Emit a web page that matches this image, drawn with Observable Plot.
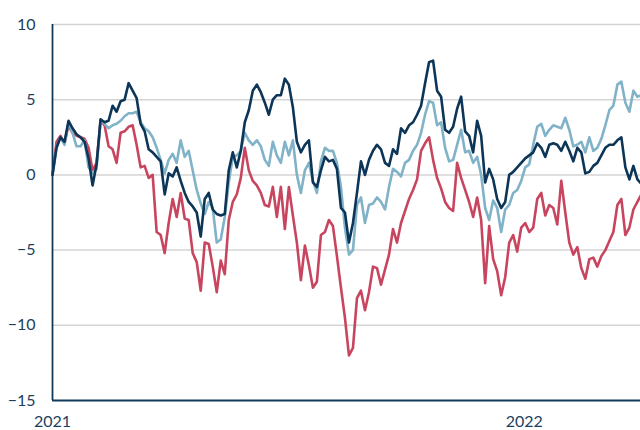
<!DOCTYPE html>
<html>
<head>
<meta charset="utf-8">
<script src="https://cdn.jsdelivr.net/npm/d3@7"></script>
<script src="https://cdn.jsdelivr.net/npm/@observablehq/plot@0.6"></script>
<style>
  html, body { margin: 0; padding: 0; background: #ffffff; }
  #chart { width: 640px; height: 430px; }
  svg { font-family: Lato, "Open Sans", sans-serif; }
</style>
</head>
<body>
<div id="chart"></div>
<script>
// Sampling: first observation and spacing (days) between readings
const startDate = "2021-01-01";
const stepDays = 3.1;
const endDate = "2022-04-01";

const yTicks = [-15, -10, -5, 0, 5, 10];
const gridTicks = [-10, -5, 0, 5, 10];
const xTickLabels = ["2021", "2022"];

const navySeries = [
  0, 1.8, 2.5, 2.2, 3.6, 3.1, 2.7, 2.5, 2.2, 1.1,
  -0.7, 0.7, 3.7, 3.5, 3.6, 4.6, 4.2, 4.9, 5.0, 6.1,
  5.6, 5.1, 3.4, 2.9, 1.7, 1.5, 1.2, 0.9, -1.3, 0.1,
  -0.1, 0.5, -0.4, -1.2, -1.8, -2.1, -2.5, -4.1, -1.6, -1.2,
  -2.3, -2.6, -2.7, -2.6, 0.3, 1.5, 0.5, 1.6, 3.5, 4.3,
  5.6, 6.0, 5.5, 4.8, 4.0, 5.0, 5.3, 5.3, 6.4, 6.0,
  4.5, 2.2, 1.5, 2.0, 2.3, -0.5, -0.8, 0.3, 1.2, 0.9,
  1.0, 0.4, -2.2, -2.5, -4.5, -3.2, -1.2, 0.9, 0.0, 1.0,
  1.6, 2.0, 1.7, 0.8, 0.6, 1.7, 1.4, 3.1, 2.8, 3.3,
  3.5, 4.0, 4.6, 6.1, 7.5, 7.6, 5.6, 5.2, 3.0, 2.8,
  3.2, 4.4, 5.2, 2.9, 2.6, 1.5, 3.6, 2.6, -0.5, 0.4,
  -0.3, -1.6, -2.2, -1.8, 0.0, 0.2, 0.5, 0.8, 1.1, 1.3,
  1.5, 2.1, 1.8, 1.2, 2.0, 2.1, 2.0, 1.6, 2.2, 1.6,
  0.9, 1.8, 1.5, 0.1, 0.2, 0.6, 0.8, 1.3, 1.8, 2.0,
  2.0, 2.3, 2.5, 0.5, -0.3, 0.6, -0.3, -0.6
];

const lightSeries = [
  0, 1.8, 2.5, 2.0, 3.5, 2.8, 1.9, 1.9, 2.3, 0.5,
  0.1, 0.4, 3.6, 3.4, 3.1, 3.3, 3.4, 3.6, 3.9, 4.1,
  4.1, 4.2, 3.5, 3.1, 2.9, 2.5, 1.8, 1.0, 0.1, 1.0,
  1.4, 0.8, 2.3, 1.2, 1.6, 0.3, -1.0, -1.9, -2.6, -1.8,
  -2.2, -4.5, -4.3, -2.8, -0.5, 1.2, 1.3, 1.6, 2.8, 2.3,
  2.0, 2.3, 1.9, 1.0, 0.6, 2.2, 1.3, 0.8, 2.2, 1.3,
  2.3, 0.0, -1.2, 0.3, 0.8, -0.4, -1.2, 0.9, 1.8, 1.6,
  1.6, 0.8, -0.8, -3.5, -5.3, -5.0, -2.0, -1.5, -3.2, -2.0,
  -1.9, -1.5, -1.8, -2.3, -0.8, 0.4, 0.2, -0.1, 0.8, 1.0,
  1.6, 2.0, 2.8, 4.0, 4.9, 4.8, 3.3, 3.5, 1.8, 0.9,
  1.0, 2.0, 3.0, 1.5, 1.6, 0.8, 1.2, 0.0, -2.2, -3.0,
  -1.7, -2.2, -3.8, -2.3, -2.0, -1.2, -1.0, -0.4, 0.5, 0.7,
  2.0, 3.2, 3.4, 2.6, 3.0, 3.3, 3.2, 3.1, 3.8, 3.0,
  1.9, 2.0, 2.2, 1.5, 2.5, 1.6, 1.8, 2.4, 3.3, 4.3,
  4.6, 6.0, 6.2, 4.8, 4.2, 5.6, 5.2, 5.3
];

const redSeries = [
  0, 2.2, 2.6, 2.1, 3.3, 2.8, 2.6, 2.5, 2.4, 1.8,
  0.3, 0.8, 3.6, 3.3, 1.9, 1.7, 0.8, 2.8, 2.9, 3.2,
  3.3, 2.0, 0.5, 0.6, -0.2, 0.0, -3.8, -4.0, -5.2, -3.2,
  -1.6, -2.8, -1.2, -2.9, -3.0, -5.2, -5.8, -7.7, -4.5, -4.6,
  -6.1, -7.8, -5.7, -6.6, -3.0, -1.8, -1.3, -0.2, 1.8, 0.3,
  -0.4, -0.7, -1.2, -2.0, -2.1, -0.8, -2.8, -0.8, -3.6, -0.8,
  -2.7, -4.5, -7.0, -4.7, -6.0, -7.5, -7.1, -4.0, -3.8, -3.0,
  -3.4, -5.4, -7.5, -9.5, -12.0, -11.5, -8.2, -7.7, -9.0, -7.8,
  -6.1, -6.2, -7.3, -6.3, -5.3, -3.6, -4.5, -3.2, -2.4, -1.6,
  -1.0, -0.3, 1.6, 2.1, 2.5, 1.0, -0.2, -0.9, -1.8, -2.2,
  -2.4, 0.8, -0.2, -1.0, -1.8, -2.8, -1.5, -3.0, -7.2, -3.4,
  -5.6, -6.4, -8.0, -6.8, -4.5, -4.0, -5.1, -3.5, -3.2, -3.8,
  -3.5, -1.6, -1.2, -2.7, -2.0, -2.2, -3.3, -0.4, -2.5, -4.5,
  -5.3, -4.8, -6.2, -6.9, -5.6, -5.5, -6.1, -5.4, -5.0, -4.4,
  -3.8, -2.0, -1.6, -4.0, -3.5, -2.3, -1.8, -1.3
];

const t0 = new Date(startDate + "T00:00:00Z");
const dateAt = (i) => new Date(t0.getTime() + i * stepDays * 86400000);
const toRows = (arr) => arr.map((v, i) => ({ date: dateAt(i), value: v }));

const navy = "#0c3557";
const light = "#80b2c8";
const red = "#c8455f";
const axisColor = "#0f3a5c";
const labelColor = "#1d3f5e";

const xTicks = xTickLabels.map(y => new Date(y + "-01-01T00:00:00Z"));

const chart = Plot.plot({
  width: 640,
  height: 430,
  marginLeft: 52,
  marginRight: 0,
  marginTop: 24,
  marginBottom: 30,
  style: { fontFamily: "Lato, 'Open Sans', sans-serif", background: "#ffffff" },
  x: { type: "utc", domain: [t0, new Date(endDate + "T00:00:00Z")] },
  y: { domain: [-15, 10] },
  marks: [
    Plot.gridY(gridTicks, { stroke: "#d4d4d4", strokeOpacity: 1, strokeWidth: 1.5 }),
    Plot.axisY(yTicks, { tickSize: 0, tickPadding: 17, fontSize: 16, color: labelColor, label: null }),
    Plot.axisX(xTicks, { tickSize: 0, tickPadding: 15, fontSize: 16, color: labelColor, label: null, tickFormat: d => d3.utcFormat("%Y")(d) }),
    Plot.line(toRows(redSeries), { x: "date", y: "value", stroke: red, strokeWidth: 2.6, strokeLinejoin: "round" }),
    Plot.line(toRows(lightSeries), { x: "date", y: "value", stroke: light, strokeWidth: 2.6, strokeLinejoin: "round" }),
    Plot.line(toRows(navySeries), { x: "date", y: "value", stroke: navy, strokeWidth: 2.6, strokeLinejoin: "round" }),
    Plot.ruleY([-15], { stroke: axisColor, strokeWidth: 1.8 }),
    Plot.ruleX([t0], { stroke: axisColor, strokeWidth: 1.8 })
  ]
});
document.getElementById("chart").appendChild(chart);
</script>
</body>
</html>
